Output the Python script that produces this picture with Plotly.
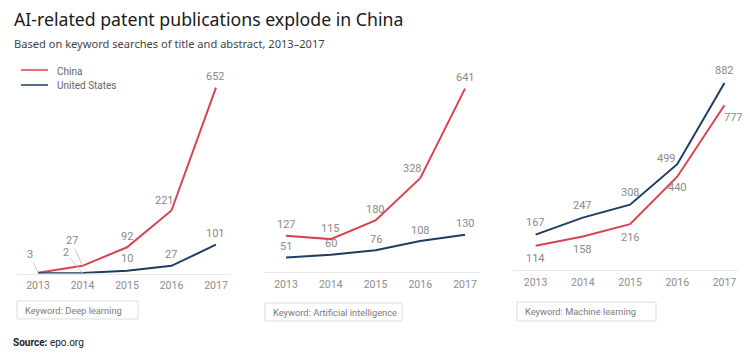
import plotly.graph_objects as go

W, H = 750, 353

years = [2013, 2014, 2015, 2016, 2017]

# Deep learning
dl_china = [3, 27, 92, 221, 652]
dl_us = [1, 2, 10, 27, 101]
# Artificial intelligence
ai_china = [127, 115, 180, 328, 641]
ai_us = [51, 60, 76, 108, 130]
# Machine learning
ml_china = [114, 158, 216, 440, 777]
ml_us = [167, 247, 308, 499, 882]

keywords = ["Keyword: Deep learning", "Keyword: Artificial intelligence", "Keyword: Machine learning"]
series_names = ["China", "United States"]

RED = "#d9434f"
NAVY = "#1d3d63"
LBL = "#8a8a8a"

def px(p):
    return p / W

def py(p):
    return 1 - p / H

fig = go.Figure()

panels = [
    dict(china=dl_china, us=dl_us, xd=(17, 230), xr=(2012.528, 2017.315), yd=(273.5, 74.0), yr=(0, 700)),
    dict(china=ai_china, us=ai_us, xd=(264, 480), xr=(2012.508, 2017.335), yd=(272.0, 71.8), yr=(0, 700)),
    dict(china=ml_china, us=ml_us, xd=(513, 738), xr=(2012.521, 2017.287), yd=(270.0, 68.6), yr=(0, 950)),
]

for i, p in enumerate(panels):
    n = "" if i == 0 else str(i + 1)
    fig.add_trace(go.Scatter(x=years, y=p["china"], mode="lines", name=series_names[0],
                             line=dict(color=RED, width=2), showlegend=False,
                             xaxis="x" + n, yaxis="y" + n, hoverinfo="skip"))
    fig.add_trace(go.Scatter(x=years, y=p["us"], mode="lines", name=series_names[1],
                             line=dict(color=NAVY, width=2), showlegend=False,
                             xaxis="x" + n, yaxis="y" + n, hoverinfo="skip"))
    fig.update_layout(**{
        "xaxis" + n: dict(domain=[px(p["xd"][0]), px(p["xd"][1])], range=list(p["xr"]),
                          anchor="y" + n, tickvals=years, ticktext=[str(y) for y in years],
                          showgrid=False, zeroline=False, showline=True, linecolor="#e8e8e8",
                          linewidth=1, ticks="outside", ticklen=2, tickcolor="rgba(0,0,0,0)",
                          tickfont=dict(family="Roboto", size=10.5, color="#8c8c8c"), fixedrange=True),
        "yaxis" + n: dict(domain=[py(p["yd"][0]), py(p["yd"][1])], range=list(p["yr"]),
                          anchor="x" + n, visible=False, fixedrange=True),
    })

annotations = []

def lab(panel, year, val, text, dx=0, dy=0, arrow=None):
    n = "" if panel == 0 else str(panel + 1)
    a = dict(x=year, y=val, xref="x" + n, yref="y" + n, text=text,
             font=dict(family="Roboto", size=11, color=LBL))
    if arrow:
        a.update(showarrow=True, ax=arrow[0], ay=arrow[1], arrowhead=0, arrowwidth=1,
                 arrowcolor="#c8c8c8", standoff=0, startstandoff=0)
    else:
        a.update(showarrow=False, xshift=dx, yshift=dy)
    annotations.append(a)

# Panel 1 labels
lab(0, 2013, dl_china[0], str(dl_china[0]), arrow=(-8, -18))
lab(0, 2014, dl_china[1], str(dl_china[1]), arrow=(-11, -25))
lab(0, 2015, dl_china[2], str(dl_china[2]), dy=11)
lab(0, 2016, dl_china[3], str(dl_china[3]), arrow=(-7, -10))
lab(0, 2017, dl_china[4], str(dl_china[4]), dy=11)
lab(0, 2014, dl_us[1], str(dl_us[1]), arrow=(-17, -20))
lab(0, 2015, dl_us[2], str(dl_us[2]), dy=12)
lab(0, 2016, dl_us[3], str(dl_us[3]), dy=11)
lab(0, 2017, dl_us[4], str(dl_us[4]), dy=11)

# Panel 2 labels
for k, y in enumerate(years):
    if k == 3:
        lab(1, y, ai_china[k], str(ai_china[k]), arrow=(-8, -10))
    else:
        lab(1, y, ai_china[k], str(ai_china[k]), dy=11)
    lab(1, y, ai_us[k], str(ai_us[k]), dy=11)

# Panel 3 labels
for k, y in enumerate(years):
    if k == 3:
        lab(2, y, ml_us[k], str(ml_us[k]), dx=-11, dy=6)
        lab(2, y, ml_china[k], str(ml_china[k]), dy=-11)
    elif k == 4:
        lab(2, y, ml_us[k], str(ml_us[k]), dy=13)
        lab(2, y, ml_china[k], str(ml_china[k]), arrow=(9, 12))
    else:
        lab(2, y, ml_us[k], str(ml_us[k]), dy=12)
        lab(2, y, ml_china[k], str(ml_china[k]), dy=-13)

# Title, subtitle, source
annotations.append(dict(x=px(12), y=py(19), xref="paper", yref="paper", xanchor="left", yanchor="middle",
                        text="AI-related patent publications explode in China", showarrow=False,
                        font=dict(family="Noto Sans", size=17.7, color="#1a1a1a")))
annotations.append(dict(x=px(12), y=py(43), xref="paper", yref="paper", xanchor="left", yanchor="middle",
                        text="Based on keyword searches of title and abstract, 2013\u20132017", showarrow=False,
                        font=dict(family="Noto Sans", size=11.1, color="#444444")))
annotations.append(dict(x=px(11), y=py(342), xref="paper", yref="paper", xanchor="left", yanchor="middle",
                        text="<b>Source:</b> epo.org", showarrow=False,
                        font=dict(family="Roboto", size=10, color="#222222")))

shapes = []

# Legend (manual)
leg_colors = [RED, NAVY]
leg_y = [70, 85]
for name, col, yy in zip(series_names, leg_colors, leg_y):
    shapes.append(dict(type="line", xref="paper", yref="paper", x0=px(21), x1=px(48), y0=py(yy), y1=py(yy),
                       line=dict(color=col, width=1.5)))
    annotations.append(dict(x=px(55), y=py(yy + 1), xref="paper", yref="paper", xanchor="left", yanchor="middle",
                            text=name, showarrow=False,
                            font=dict(family="Roboto", size=10, color="#666666")))

# Keyword boxes
boxes = [(17, 301, 138, 319), (265, 303, 402, 321), (517, 302, 656, 321)]
for (x0, y0, x1, y1), kw in zip(boxes, keywords):
    shapes.append(dict(type="rect", xref="paper", yref="paper", x0=px(x0), x1=px(x1), y0=py(y1), y1=py(y0),
                       line=dict(color="#dddddd", width=1), fillcolor="white", layer="below"))
    annotations.append(dict(x=px(x0 + 6), y=py((y0 + y1) / 2), xref="paper", yref="paper",
                            xanchor="left", yanchor="middle", text=kw, showarrow=False,
                            font=dict(family="Roboto", size=9.3, color="#7a7a7a")))

fig.update_layout(
    width=W, height=H, margin=dict(l=0, r=0, t=0, b=0),
    paper_bgcolor="white", plot_bgcolor="white",
    annotations=annotations, shapes=shapes,
    showlegend=False,
)

fig.write_html("out.html")
